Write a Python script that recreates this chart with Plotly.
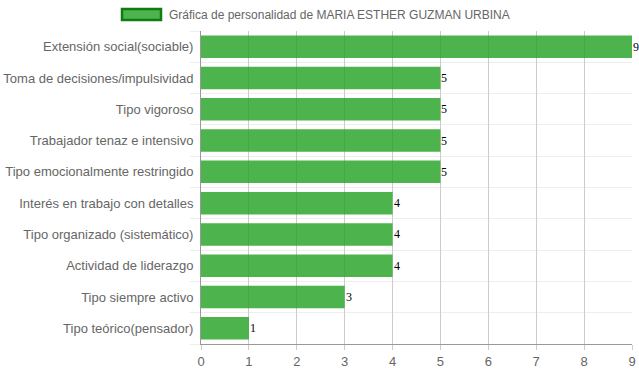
import plotly.graph_objects as go

categories = [
    "Extensión social(sociable)",
    "Toma de decisiones/impulsividad",
    "Tipo vigoroso",
    "Trabajador tenaz e intensivo",
    "Tipo emocionalmente restringido",
    "Interés en trabajo con detalles",
    "Tipo organizado (sistemático)",
    "Actividad de liderazgo",
    "Tipo siempre activo",
    "Tipo teórico(pensador)",
]
values = [9, 5, 5, 5, 5, 4, 4, 4, 3, 1]
x_ticks = list(range(0, 10))
series_name = "Gráfica de personalidad de MARIA ESTHER GUZMAN URBINA"

idx = list(range(len(categories)))

W, H = 639, 372
L, R, T, B = 201, 7, 31, 28
PW, PH = W - L - R, H - T - B

fig = go.Figure()
fig.add_trace(go.Bar(
    x=values,
    y=idx,
    orientation="h",
    width=0.72,
    marker=dict(color="rgba(32,160,32,0.8)", line=dict(width=0)),
    name=series_name,
    showlegend=False,
    hoverinfo="x+y",
))

# value labels right after each bar end
for v, i in zip(values, idx):
    fig.add_annotation(x=v, y=i, text=str(v), showarrow=False,
                       xanchor="left", yanchor="middle", xshift=-1,
                       font=dict(family="Liberation Serif, Times New Roman, serif",
                                 size=12, color="#000"))

fig.update_layout(
    width=W, height=H,
    margin=dict(l=L, r=R, t=T, b=B, autoexpand=False),
    paper_bgcolor="white", plot_bgcolor="white",
    font=dict(family="Liberation Sans, Arial, sans-serif", size=12, color="#666"),
)
fig.update_xaxes(
    range=[0, 9], tickvals=x_ticks, showgrid=True, gridcolor="#cccccc", gridwidth=1,
    zeroline=False, showline=True, linecolor="#999", linewidth=1,
    ticks="outside", ticklen=5, tickcolor="#ccc",
    tickfont=dict(size=13, color="#666"), fixedrange=True,
)
fig.update_yaxes(
    range=[len(categories) - 0.5, -0.5],
    tickvals=idx, ticktext=categories,
    showgrid=False, zeroline=False,
    showline=True, linecolor="#999", linewidth=1,
    ticks="", ticklabelstandoff=4,
    minor=dict(tickvals=[i - 0.5 for i in range(len(categories) + 1)],
               showgrid=True, gridcolor="#eeeeee", gridwidth=1,
               ticks="outside", ticklen=10, tickcolor="#eeeeee"),
    tickfont=dict(size=13, color="#666"), fixedrange=True,
)

# legend drawn as a swatch + label above the plot
def px_x(px):
    return (px - L) / PW

def px_y(py):
    return (T + PH - py) / PH

fig.add_shape(type="rect", xref="paper", yref="paper",
              x0=px_x(122), x1=px_x(161), y0=px_y(20), y1=px_y(9),
              fillcolor="rgba(32,160,32,0.8)", line=dict(color="#107c10", width=2.5))
fig.add_annotation(xref="paper", yref="paper",
                   x=px_x(167), y=px_y(14.5),
                   text=series_name, showarrow=False, xanchor="left", yanchor="middle",
                   font=dict(size=12, color="#666"))

fig.write_html("out.html", config={"displayModeBar": False},
               post_script="document.body.style.margin='0';")
